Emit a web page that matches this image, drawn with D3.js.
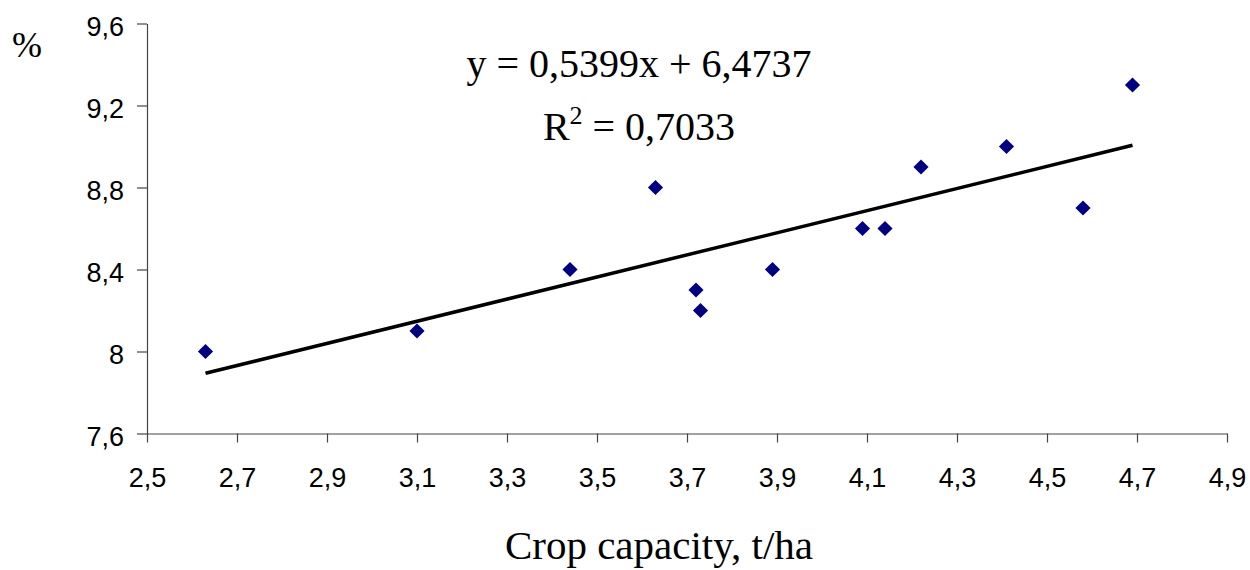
<!DOCTYPE html>
<html>
<head>
<meta charset="utf-8">
<script src="https://cdn.jsdelivr.net/npm/d3@7"></script>
<style>
  html, body { margin: 0; padding: 0; background: #fff; }
  svg { display: block; }
</style>
</head>
<body>
<svg id="chart" width="1250" height="570"></svg>
<script>
// Data
const cropCapacity = [2.63, 3.10, 3.44, 3.63, 3.72, 3.73, 3.89, 4.09, 4.14, 4.22, 4.41, 4.58, 4.69];
const percentValues = [8.0, 8.1, 8.4, 8.8, 8.3, 8.2, 8.4, 8.6, 8.6, 8.9, 9.0, 8.7, 9.3];
const trendSlope = 0.5399;
const trendIntercept = 6.4737;
const rSquaredText = "0,7033";
const xTicks = [2.5, 2.7, 2.9, 3.1, 3.3, 3.5, 3.7, 3.9, 4.1, 4.3, 4.5, 4.7, 4.9];
const yTicks = [7.6, 8.0, 8.4, 8.8, 9.2, 9.6];
const xTitle = "Crop capacity, t/ha";
const yTitle = "%";

const svg = d3.select("#chart");
const fmt = v => (Number.isInteger(v) ? String(v) : d3.format(".1f")(v).replace(".", ","));

const x = d3.scaleLinear().domain([2.5, 4.9]).range([147, 1227]);
const y = d3.scaleLinear().domain([7.6, 9.6]).range([433.5, 23.5]);

const axisColor = "#444";

// X axis
const gx = svg.append("g").attr("transform", "translate(0,433.5)")
  .call(d3.axisBottom(x).tickValues(xTicks).tickFormat(fmt).tickSize(9).tickSizeOuter(0).tickPadding(0));
gx.select(".domain").attr("stroke", axisColor).attr("stroke-width", 1.2);
gx.selectAll(".tick line").attr("stroke", axisColor).attr("stroke-width", 1.2);
gx.selectAll(".tick text").attr("fill", "#000")
  .style("font-family", "'Liberation Sans', Arial, sans-serif").style("font-size", "27px")
  .attr("y", 0).attr("dy", "53px");

// Y axis
const gy = svg.append("g").attr("transform", "translate(147,0)")
  .call(d3.axisLeft(y).tickValues(yTicks).tickFormat(fmt).tickSize(10).tickSizeOuter(0).tickPadding(13));
gy.select(".domain").attr("stroke", axisColor).attr("stroke-width", 1.2);
gy.selectAll(".tick line").attr("stroke", axisColor).attr("stroke-width", 1.2);
gy.selectAll(".tick text").attr("fill", "#000")
  .style("font-family", "'Liberation Sans', Arial, sans-serif").style("font-size", "27px")
  .attr("dy", "0.43em");

// Trendline
const xExt = d3.extent(cropCapacity);
svg.append("line")
  .attr("x1", x(xExt[0])).attr("y1", y(trendSlope * xExt[0] + trendIntercept))
  .attr("x2", x(xExt[1])).attr("y2", y(trendSlope * xExt[1] + trendIntercept))
  .attr("stroke", "#000").attr("stroke-width", 3.5);

// Points (diamonds)
const diamond = d3.symbol().type(d3.symbolSquare).size(115);
svg.append("g").selectAll("path")
  .data(cropCapacity.map((v, i) => [v, percentValues[i]]))
  .join("path")
  .attr("d", diamond)
  .attr("transform", d => `translate(${x(d[0])},${y(d[1])}) rotate(45)`)
  .attr("fill", "#000080");

// Equation text
const serif = "'Liberation Serif', 'Times New Roman', serif";
svg.append("text").attr("x", 639).attr("y", 77).attr("text-anchor", "middle")
  .style("font-family", serif).style("font-size", "40px").attr("fill", "#000")
  .text(`y = ${String(trendSlope).replace(".", ",")}x + ${String(trendIntercept).replace(".", ",")}`);

const r2 = svg.append("text").attr("x", 639).attr("y", 140).attr("text-anchor", "middle")
  .style("font-family", serif).style("font-size", "40px").attr("fill", "#000");
r2.append("tspan").text("R");
r2.append("tspan").attr("dy", -16).style("font-size", "26px").text("2");
r2.append("tspan").attr("dy", 16).text(" = " + rSquaredText);

// Axis titles
svg.append("text").attr("x", 659).attr("y", 559).attr("text-anchor", "middle")
  .style("font-family", serif).style("font-size", "41px").attr("fill", "#000")
  .text(xTitle);
svg.append("text").attr("x", 12).attr("y", 57)
  .style("font-family", serif).style("font-size", "36px").attr("fill", "#000")
  .text(yTitle);
</script>
</body>
</html>
